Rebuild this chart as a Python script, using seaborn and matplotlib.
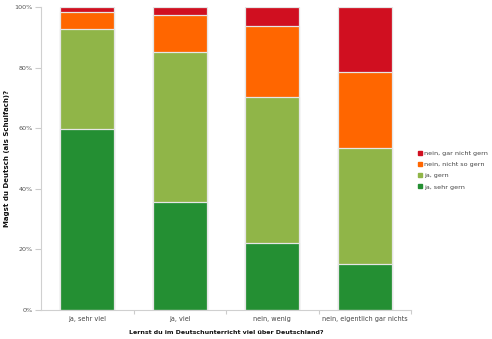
import matplotlib
matplotlib.use("Agg")
import matplotlib.pyplot as plt
import seaborn as sns
import pandas as pd
import numpy as np
from matplotlib.lines import Line2D

categories = ["ja, sehr viel", "ja, viel", "nein, wenig", "nein, eigentlich gar nichts"]
series = ["ja, sehr gern", "ja, gern", "nein, nicht so gern", "nein, gar nicht gern"]
ja_sehr_gern = [59.7, 35.5, 22.2, 15.2]
ja_gern = [33.0, 49.6, 48.2, 38.4]
nein_nicht_so_gern = [5.5, 12.4, 23.3, 24.8]
nein_gar_nicht_gern = [1.8, 2.5, 6.3, 21.6]
colors = ["#248f33", "#90b548", "#ff6600", "#d00f20"]
yticks = [0, 20, 40, 60, 80, 100]

sns.set_theme(style="white")
plt.rcParams['font.family'] = ['DejaVu Sans']

df = pd.DataFrame({"cat": categories,
                   series[0]: ja_sehr_gern, series[1]: ja_gern,
                   series[2]: nein_nicht_so_gern, series[3]: nein_gar_nicht_gern})
cum = df[series].cumsum(axis=1)

fig = plt.figure(figsize=(4.92, 3.39), dpi=100)
ax = fig.add_axes([41/492, 29/339, 370/492, 303/339])

for s, c in reversed(list(zip(series, colors))):
    sns.barplot(x=df["cat"], y=cum[s], color=c, ax=ax, width=0.58,
                edgecolor="#e6e6e6", linewidth=0.9, saturation=1)

ax.set_ylim(0, 100)
ax.set_xlim(-0.5, 3.5)
ax.set_yticks(yticks)
ax.set_yticklabels([f"{v}%" for v in yticks], fontsize=4.6, color="#555555")
ax.tick_params(axis="y", length=4, color="#cccccc", width=0.8, pad=2, left=True)
ax.set_xticks(range(4))
ax.set_xticklabels(categories, fontsize=4.7, color="#444444")
ax.tick_params(axis="x", length=0, pad=4)
ax.set_xticks([0.5, 1.5, 2.5, 3.5], minor=True)
ax.tick_params(axis="x", which="minor", length=3, color="#cccccc", width=0.8, bottom=True)

for sp in ["top", "right"]:
    ax.spines[sp].set_visible(False)
for sp in ["left", "bottom"]:
    ax.spines[sp].set_color("#d0d0d0")
    ax.spines[sp].set_linewidth(0.8)

ax.set_xlabel("Lernst du im Deutschunterricht viel über Deutschland?", fontsize=4.5,
              fontweight="bold", color="#111111", labelpad=6)
ax.set_ylabel("Magst du Deutsch (als Schulfach)?", fontsize=5.0,
              fontweight="bold", color="#111111", labelpad=8)
ax.yaxis.set_label_coords(-0.085, 0.5)

handles = [Line2D([0], [0], marker="s", color="none", markerfacecolor=c,
                  markeredgecolor=c, markersize=2.5) for c in reversed(colors)]
leg = fig.legend(handles, list(reversed(series)), loc="upper left",
                 bbox_to_anchor=(416/492, 1 - 148/339), frameon=False,
                 fontsize=4.6, handlelength=0.6, handletextpad=0.2,
                 labelspacing=0.9, borderaxespad=0)
for t in leg.get_texts():
    t.set_color("#444444")

fig.savefig("out.png", dpi=100)
